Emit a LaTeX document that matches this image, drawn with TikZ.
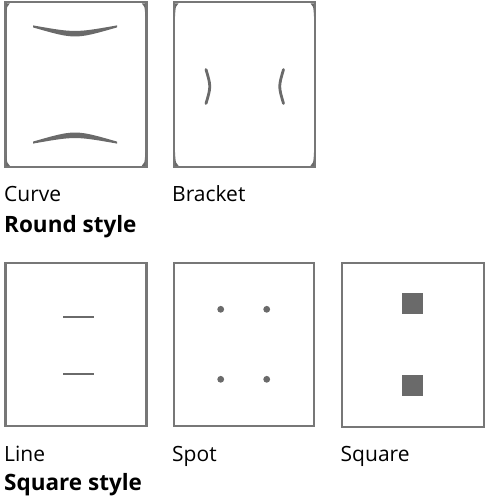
\documentclass[tikz,border=0pt]{standalone}
\usepackage{fontspec}
\setmainfont{Open Sans}
\definecolor{frame}{HTML}{777777}
\definecolor{ink}{HTML}{6A6A6A}
\begin{document}
\begin{tikzpicture}[x=1pt,y=-1pt,
  panel/.style={draw=frame,line width=2.5pt},
  lbl/.style={anchor=base west,inner sep=0pt,font=\fontsize{21}{25}\selectfont,text=black},
  ttl/.style={anchor=base west,inner sep=0pt,font=\fontsize{22.5}{27}\selectfont\bfseries,text=black},
  brk/.style={draw=ink,line width=2.8pt,line cap=round},
  dash line/.style={draw=ink,line width=2.6pt}]
\useasboundingbox (0,0) rectangle (485,502);
% ---- round style panels
\draw[panel] (5.3,2.2) rectangle (146.3,167);
\draw[panel] (174,2.2) rectangle (315,167);
% corner wedges
\foreach \l/\r in {5.3/146.3,174/315}{
  \fill[ink] (\l+1,3.4) -- (\l+4.5,3.4) .. controls (\l+1.6,6) .. (\l+1,16.5) -- cycle;
  \fill[ink] (\r-1,3.4) -- (\r-4.5,3.4) .. controls (\r-1.6,6) .. (\r-1,16.5) -- cycle;
  \fill[ink] (\l+1,165.8) -- (\l+4.5,165.8) .. controls (\l+1.6,163.2) .. (\l+1,152.5) -- cycle;
  \fill[ink] (\r-1,165.8) -- (\r-4.5,165.8) .. controls (\r-1.6,163.2) .. (\r-1,152.5) -- cycle;
}
% curves
\fill[ink] (33,25.4) .. controls (75,32.8) .. (117,25.4) -- (117,27.4) .. controls (75,39.5) .. (33,27.4) -- cycle;
\fill[ink] (33,143.6) .. controls (75,136.2) .. (117,143.6) -- (117,141.6) .. controls (75,129.5) .. (33,141.6) -- cycle;
% brackets
\draw[brk] (206,69.5) .. controls (211,86.5) .. (206,103.5);
\draw[brk] (283.5,69.5) .. controls (278.5,86.5) .. (283.5,103.5);
\node[lbl] (curve) at (4,201.5) {Curve};
\node[lbl] (bracket) at (172,201.5) {Bracket};
\node[ttl] (round) at (4,233) {Round style};
% ---- square style panels
\draw[panel] (5.3,263.2) rectangle (146.3,426);
\draw[panel] (174,263.2) rectangle (314,426);
\draw[panel] (342,263.2) rectangle (484,427);
% lines
\draw[dash line] (63,317) -- (94,317);
\draw[dash line] (63,374) -- (94,374);
% spots
\foreach \x in {220.7,266.7}{\foreach \y in {309.3,379.3}{\fill[ink] (\x,\y) circle (3.4);}}
% squares
\fill[ink] (402,292.7) rectangle (423,313.7);
\fill[ink] (402,375) rectangle (423,396);
\node[lbl] (line) at (4,461.5) {Line};
\node[lbl] (spot) at (172,461.5) {Spot};
\node[lbl] (square) at (340.5,461.5) {Square};
\node[ttl] (sqstyle) at (4,490) {Square style};
\end{tikzpicture}
\end{document}
